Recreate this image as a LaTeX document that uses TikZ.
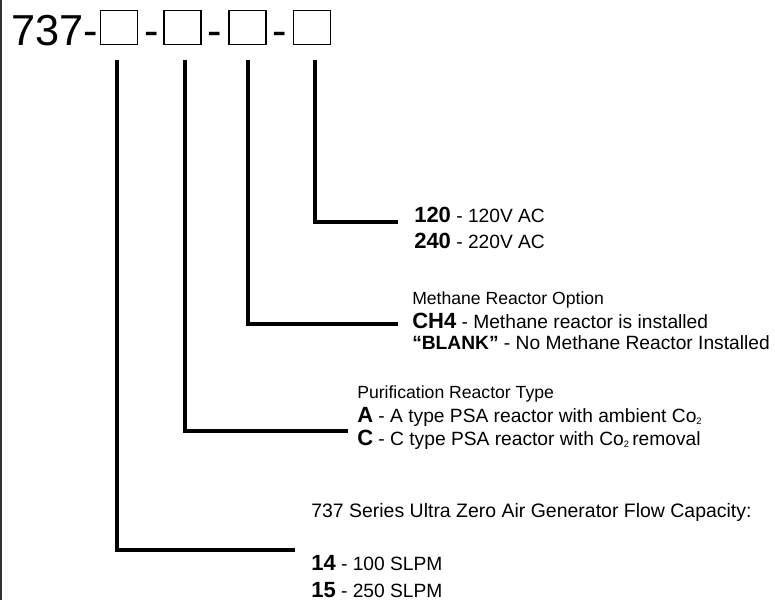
\documentclass[tikz,border=0pt]{standalone}
\usepackage{fontspec}
\setmainfont{Liberation Sans}
\newcommand\regf{\fontsize{14.4}{16}\selectfont\mdseries}
\newcommand\titf{\fontsize{13.2}{15}\selectfont\mdseries}
\newcommand\boldf{\fontsize{16.5}{18}\selectfont\bfseries}
\newcommand\subtwo{\raisebox{-1.5pt}{\fontsize{7}{7}\selectfont 2}}
\begin{document}
\begin{tikzpicture}[x=0.75pt,y=-0.75pt,
  lead/.style={line width=3pt,line cap=rect,line join=miter},
  slot/.style={draw,line width=1.1pt,minimum width=37*0.75pt,minimum height=34*0.75pt,inner sep=0pt},
  dashtxt/.style={inner sep=0pt,anchor=base,font=\fontsize{32.5}{34}\selectfont},
  txt/.style={inner sep=0pt,anchor=base west}]
\useasboundingbox (0,0) rectangle (775,600);
\draw[line width=1.5pt,black!80] (0.8,0) -- (0.8,600);
% title
\node[txt,font=\fontsize{32.5}{34}\selectfont] (t) at (11,45.5) {737-};
\node[slot] (b1) at (119,27.5) {};
\node[slot] (b2) at (182.5,27.5) {};
\node[slot] (b3) at (247.5,27.5) {};
\node[slot] (b4) at (312,27.5) {};
\node[dashtxt] (d1) at (151.5,45.5) {-};
\node[dashtxt] (d2) at (215,45.5) {-};
\node[dashtxt] (d3) at (280,45.5) {-};
% leader corners
\coordinate (s1) at (117,62); \coordinate (c1) at (117,550); \coordinate (e1) at (293,550);
\coordinate (s2) at (185,62); \coordinate (c2) at (185,431); \coordinate (e2) at (346,431);
\coordinate (s3) at (248,62); \coordinate (c3) at (248,324); \coordinate (e3) at (396,324);
\coordinate (s4) at (315,62); \coordinate (c4) at (315,222); \coordinate (e4) at (396,222);
\draw[lead] (s1) -- (c1) -- (e1);
\draw[lead] (s2) -- (c2) -- (e2);
\draw[lead] (s3) -- (c3) -- (e3);
\draw[lead] (s4) -- (c4) -- (e4);
% group 4
\node[txt] (g4a) at (414,222) {\boldf 120\regf{} - 120V AC};
\node[txt] (g4b) at (414,248) {\boldf 240\regf{} - 220V AC};
% group 3
\node[txt] (g3t) at (412,304) {\titf Methane Reactor Option};
\node[txt] (g3a) at (412,328) {\boldf CH4\regf{} - Methane reactor is installed};
\node[txt] (g3b) at (412,349) {\regf\bfseries “BLANK”\mdseries{} - No Methane Reactor Installed};
% group 2
\node[txt] (g2t) at (357,398) {\titf Purification Reactor Type};
\node[txt] (g2a) at (357,422) {\boldf A\regf{} - A type PSA reactor with ambient Co\subtwo};
\node[txt] (g2b) at (357,445) {\boldf C\regf{} - C type PSA reactor with Co\subtwo\,removal};
% group 1
\node[txt] (g1t) at (311,517) {\fontsize{14.6}{16}\selectfont 737 Series Ultra Zero Air Generator Flow Capacity:};
\node[txt] (g1a) at (311,570) {\boldf 14\regf{} - 100 SLPM};
\node[txt] (g1b) at (311,597) {\boldf 15\regf{} - 250 SLPM};
\end{tikzpicture}
\end{document}
